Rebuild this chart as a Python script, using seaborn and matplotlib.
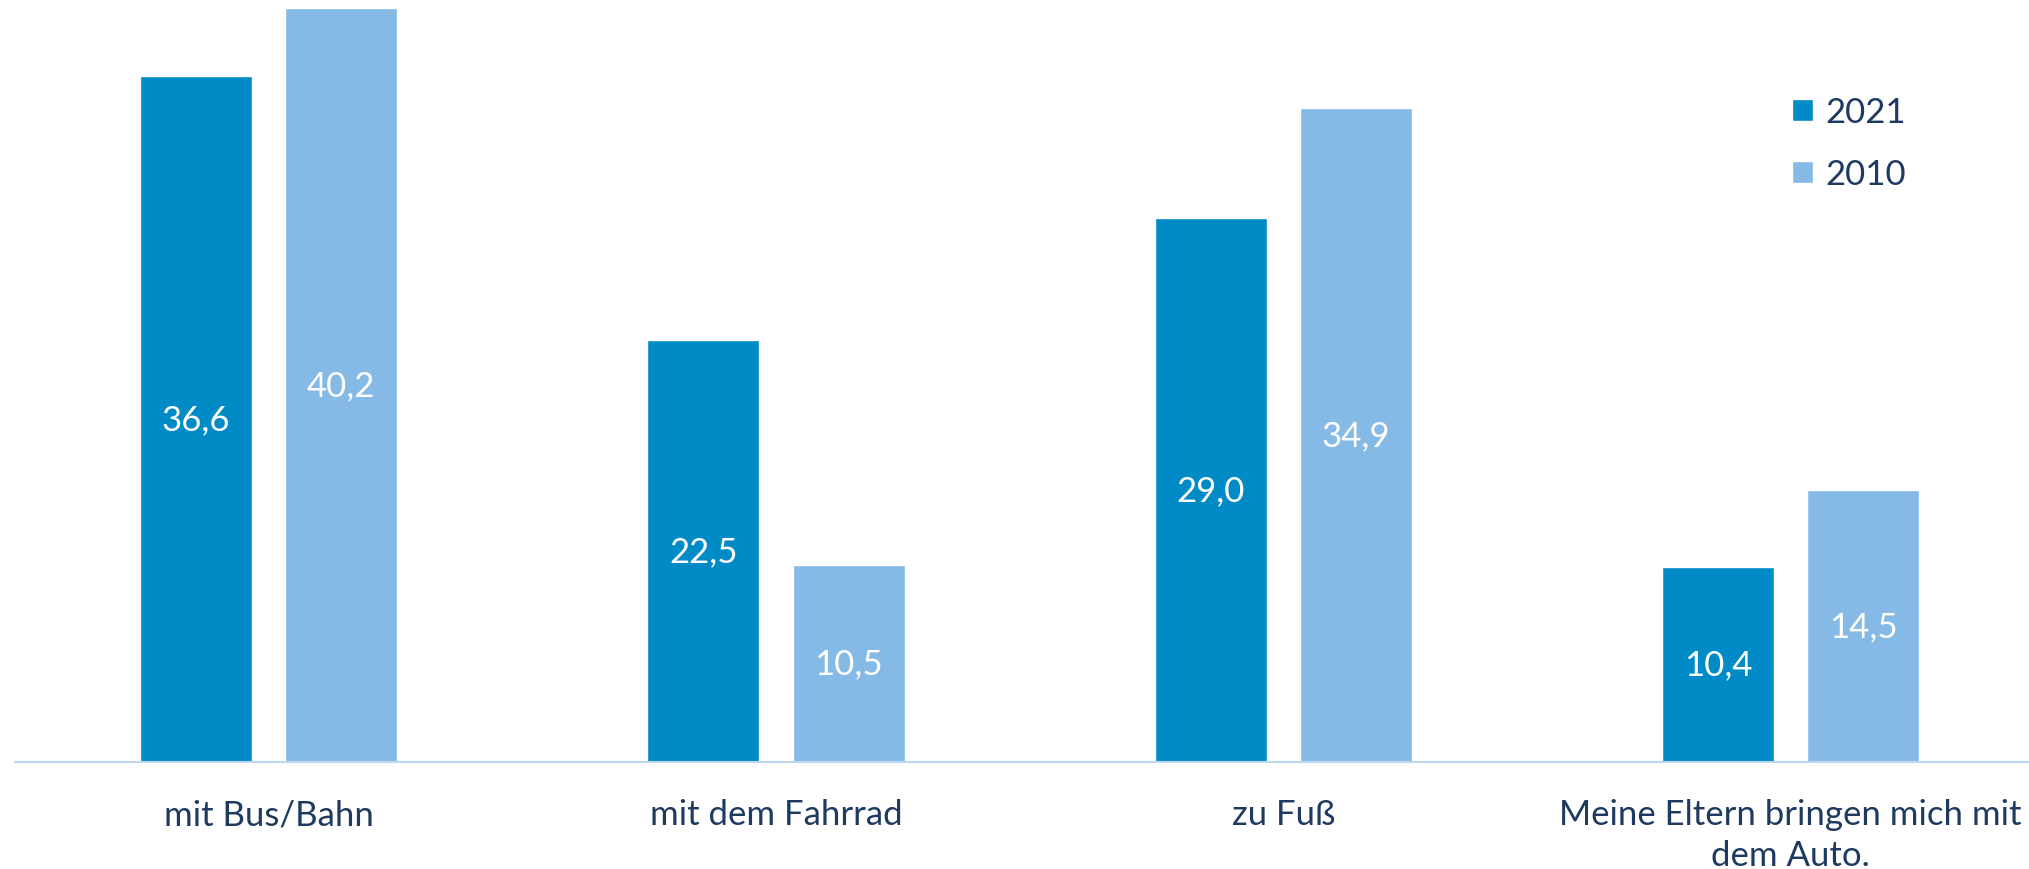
import matplotlib
matplotlib.use("Agg")
import matplotlib.pyplot as plt
import pandas as pd
import seaborn as sns

# Data
categories = ["mit Bus/Bahn", "mit dem Fahrrad", "zu Fuß",
              "Meine Eltern bringen mich mit\ndem Auto."]
years = ["2021", "2010"]
values_2021 = [36.6, 22.5, 29.0, 10.4]
values_2010 = [40.2, 10.5, 34.9, 14.5]

colors = ["#008BC7", "#86BAE6"]
text_color = "#1F3A60"

df = pd.DataFrame({
    "Kategorie": categories * 2,
    "Wert": values_2021 + values_2010,
    "Jahr": [years[0]] * 4 + [years[1]] * 4,
})

sns.set_style("white")
plt.rcParams["font.family"] = ["Lato", "DejaVu Sans"]

fig = plt.figure(figsize=(20.29, 8.70), dpi=100)
ax = fig.add_axes([0.0074, 0.123, 0.9926, 0.877])

sns.barplot(data=df, x="Kategorie", y="Wert", hue="Jahr", palette=colors,
            width=0.572, gap=0.228, saturation=1, ax=ax, legend=True)

# Value labels inside bars
for cont in ax.containers:
    ax.bar_label(cont, labels=[f"{v:.1f}".replace(".", ",") for v in cont.datavalues],
                 label_type="center", color="white", fontsize=25)

ax.set_xlim(-0.5, 3.47)
ax.set_ylim(0, 40.7)
ax.set_xlabel("")
ax.set_ylabel("")
ax.set_yticks([])
ax.tick_params(axis="x", length=0, pad=26, labelsize=25, labelcolor=text_color)
for lbl in ax.get_xticklabels():
    lbl.set_linespacing(1.35)

for s in ["top", "right", "left"]:
    ax.spines[s].set_visible(False)
ax.spines["bottom"].set_color("#BDD7EE")
ax.spines["bottom"].set_linewidth(1.5)

# Legend
handles, labels = ax.get_legend_handles_labels()
leg = ax.legend(handles, labels, loc="upper left", bbox_to_anchor=(0.868, 0.924),
                bbox_transform=fig.transFigure, frameon=False, fontsize=25,
                handlelength=0.6, handleheight=0.6, handletextpad=0.35,
                labelspacing=0.85)
for t in leg.get_texts():
    t.set_color(text_color)

fig.savefig("out.png", dpi=100)
